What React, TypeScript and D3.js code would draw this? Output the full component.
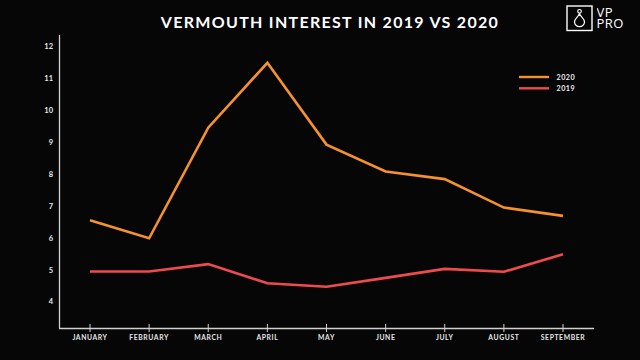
import { useEffect, useRef } from "react"
import * as d3 from "d3"

const months = ["January", "February", "March", "April", "May", "June", "July", "August", "September"]
const values2020 = [6.55, 5.99, 9.45, 11.48, 8.92, 8.08, 7.84, 6.95, 6.69]
const values2019 = [4.95, 4.95, 5.18, 4.58, 4.47, 4.75, 5.03, 4.94, 5.49]
const yTicks = [4, 5, 6, 7, 8, 9, 10, 11, 12]

const W = 640
const H = 360
const ORANGE = "#f5922e"
const RED = "#ef4b4f"
const AXIS = "#d0d0d0"
const FONT = "Lato, 'Open Sans', sans-serif"

export default function App() {
  const svgRef = useRef<SVGSVGElement>(null)

  useEffect(() => {
    if (!svgRef.current) return
    const svg = d3.select(svgRef.current)
    svg.selectAll("*").remove()

    svg.append("rect").attr("width", W).attr("height", H).attr("fill", "#060607")

    const x = d3.scalePoint<string>().domain(months).range([90, 563])
    const y = d3.scaleLinear().domain([3.15, 12.35]).range([329, 35])

    // axes lines
    svg.append("line").attr("x1", 59.5).attr("x2", 59.5).attr("y1", 35).attr("y2", 328.5)
      .attr("stroke", AXIS).attr("stroke-width", 1.3)
    svg.append("line").attr("x1", 59).attr("x2", 594).attr("y1", 328.5).attr("y2", 328.5)
      .attr("stroke", AXIS).attr("stroke-width", 1.3)

    // y tick labels
    svg.selectAll(".ytick").data(yTicks).enter().append("text")
      .attr("x", 53).attr("y", (d) => y(d)).attr("dy", "0.35em")
      .attr("text-anchor", "end").attr("fill", "#e8e8e8")
      .attr("font-family", FONT).attr("font-weight", 700).attr("font-size", 7.5)
      .text((d) => d)

    // x ticks and labels
    const xt = svg.selectAll(".xtick").data(months).enter().append("g")
      .attr("transform", (d) => `translate(${x(d)},0)`)
    xt.append("line").attr("y1", 324).attr("y2", 332).attr("stroke", AXIS).attr("stroke-width", 1)
    xt.append("text").attr("y", 339.5).attr("text-anchor", "middle").attr("fill", "#e8e8e8")
      .attr("font-family", FONT).attr("font-weight", 700).attr("font-size", 6.8)
      .attr("letter-spacing", 0.6)
      .text((d) => d.toUpperCase())

    const line = d3.line<number>()
      .x((_, i) => x(months[i]) as number)
      .y((d) => y(d))

    svg.append("path").datum(values2019).attr("d", line).attr("fill", "none")
      .attr("stroke", RED).attr("stroke-width", 2.6).attr("stroke-linejoin", "miter")
    svg.append("path").datum(values2020).attr("d", line).attr("fill", "none")
      .attr("stroke", ORANGE).attr("stroke-width", 2.6).attr("stroke-linejoin", "miter")

    // legend
    const legend = [
      { label: "2020", color: ORANGE },
      { label: "2019", color: RED },
    ]
    const lg = svg.selectAll(".legend").data(legend).enter().append("g")
      .attr("transform", (_, i) => `translate(519,${77 + i * 11.3})`)
    lg.append("line").attr("x1", 0).attr("x2", 30).attr("stroke", (d) => d.color).attr("stroke-width", 2.4)
    lg.append("text").attr("x", 37.5).attr("dy", "0.35em").attr("fill", "#eeeeee")
      .attr("font-family", FONT).attr("font-weight", 700).attr("font-size", 7.2)
      .attr("letter-spacing", 0.5)
      .text((d) => d.label)

    // title
    svg.append("text").attr("x", 330).attr("y", 28).attr("text-anchor", "middle")
      .attr("fill", "#ffffff").attr("font-family", FONT).attr("font-weight", 700)
      .attr("font-size", 16).attr("letter-spacing", 1.3)
      .text("VERMOUTH INTEREST IN 2019 VS 2020")

    // logo
    const logo = svg.append("g")
    logo.append("rect").attr("x", 567).attr("y", 6).attr("width", 25).attr("height", 24.5)
      .attr("fill", "none").attr("stroke", "#ffffff").attr("stroke-width", 1.4)
    logo.append("circle").attr("cx", 579.5).attr("cy", 11.3).attr("r", 1.8)
      .attr("fill", "none").attr("stroke", "#ffffff").attr("stroke-width", 1.2)
    logo.append("path")
      .attr("d", "M579.5,13.2 C579.5,16 574.5,18 574.5,22 A5,4.6 0 0 0 584.5,22 C584.5,18 579.5,16 579.5,13.2")
      .attr("fill", "none").attr("stroke", "#ffffff").attr("stroke-width", 1.2)
    logo.append("foreignObject").attr("x", 596.5).attr("y", 5).attr("width", 40).attr("height", 28)
      .append("xhtml:div")
      .style("color", "#ffffff")
      .style("font-family", "'Open Sans', sans-serif")
      .style("font-size", "13px")
      .style("line-height", "11.4px")
      .style("letter-spacing", "0.4px")
      .style("margin", "0")
      .style("padding-top", "1.5px")
      .html("VP<br/>PRO")
  }, [])

  return (
    <svg
      ref={svgRef}
      width={W}
      height={H}
      style={{ position: "absolute", left: 0, top: 0, display: "block" }}
    />
  )
}
